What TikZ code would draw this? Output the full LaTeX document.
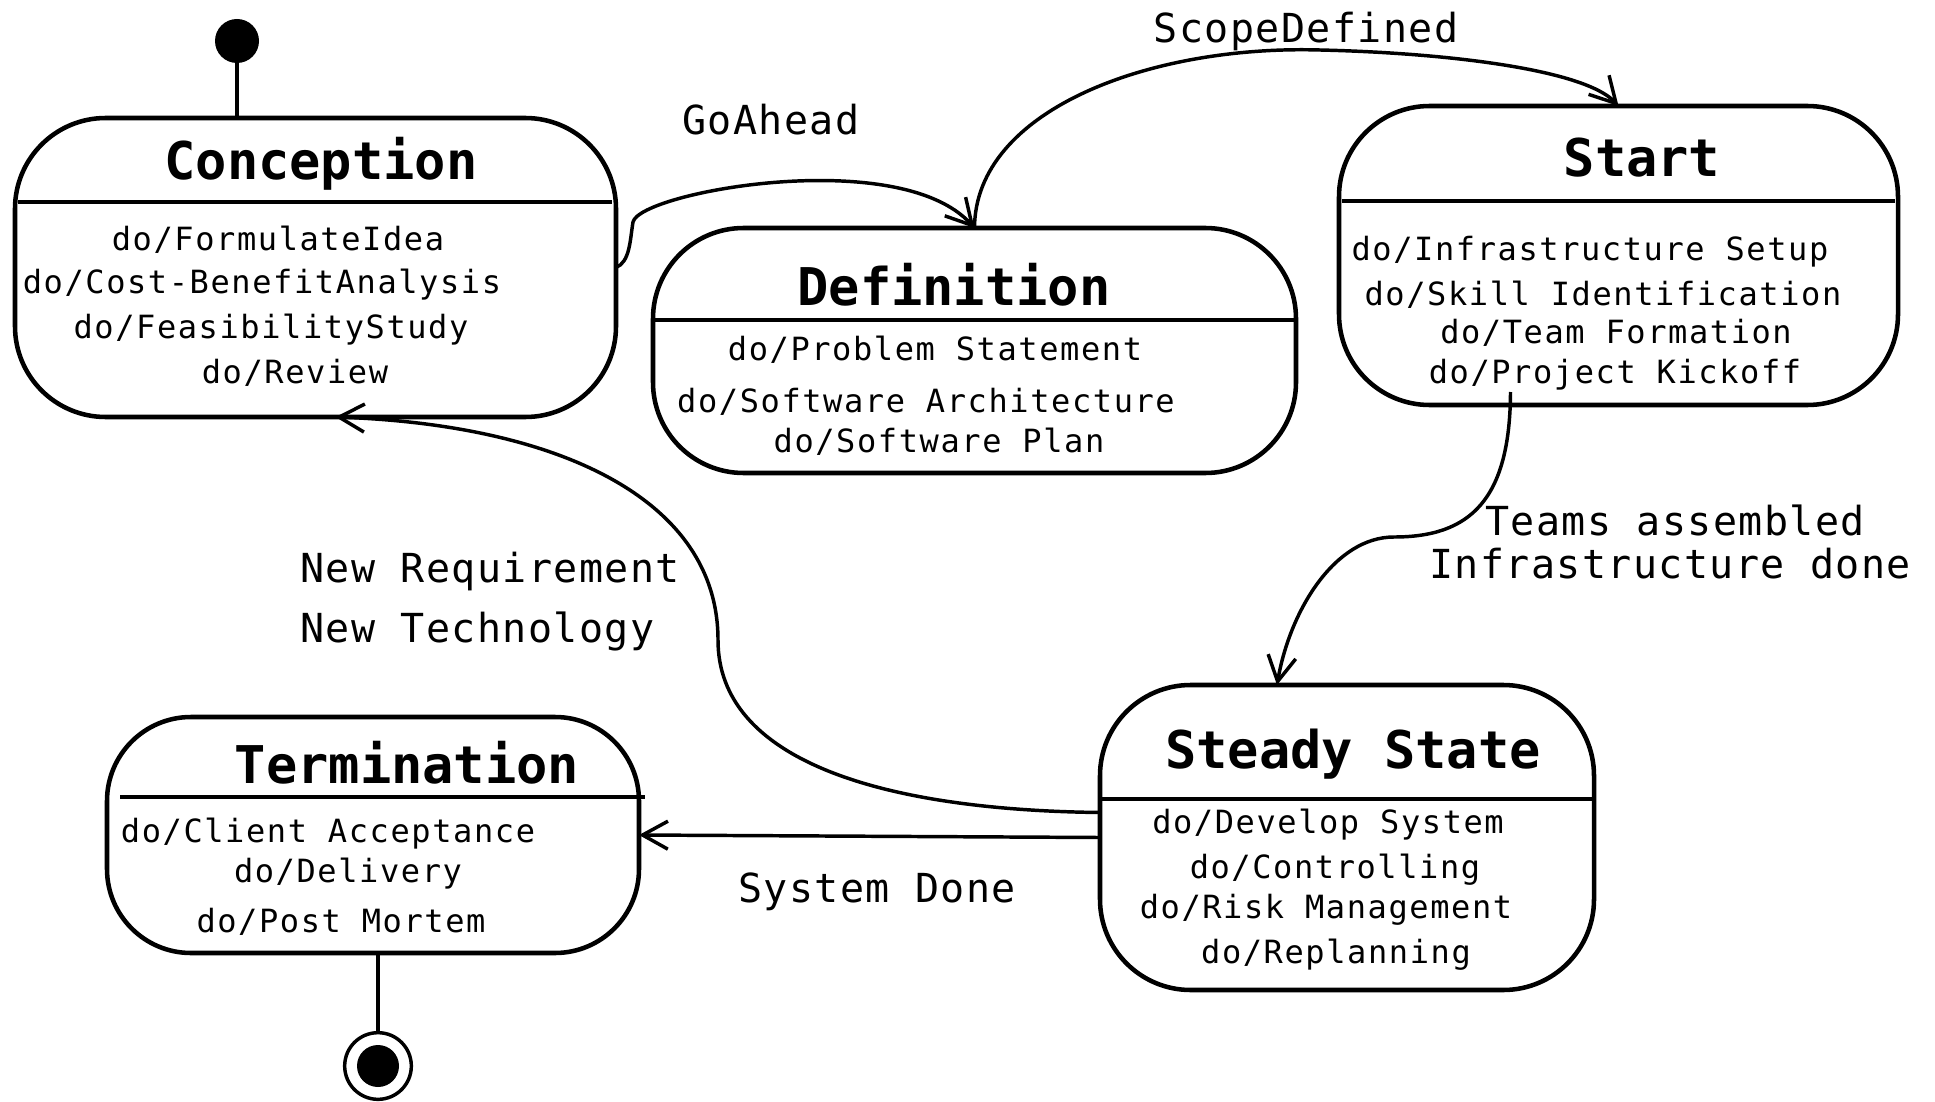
\documentclass[tikz,border=0pt]{standalone}
\usepackage{fontspec}
\usetikzlibrary{arrows.meta,calc}
\newfontfamily\bodyfont{DejaVu Sans Mono}[LetterSpace=5]
\newfontfamily\lblfont{DejaVu Sans Mono}[LetterSpace=3.5]
\newfontfamily\ttlfont{DejaVu Sans Mono}

\begin{document}
\begin{tikzpicture}[x=0.75pt,y=-0.75pt,
  state/.style={draw, line width=3.4pt, rounded corners=68pt, inner sep=0pt, outer sep=0pt},
  divider/.style={line width=3.4pt},
  ttl/.style={anchor=base, inner sep=0pt, font=\ttlfont\bfseries\fontsize{39pt}{44pt}\selectfont},
  act/.style={anchor=base, inner sep=0pt, font=\bodyfont\fontsize{24pt}{29pt}\selectfont},
  lbl/.style={anchor=base, inner sep=0pt, font=\lblfont\fontsize{30pt}{36pt}\selectfont},
  link/.style={line width=2.6pt},
  trans/.style={link, -{Straight Barb[length=19pt,width=21pt]}}]

\path[use as bounding box, fill=white] (0,0) rectangle (1935,1102);

% states
\node[state, minimum width=450.75pt, minimum height=224.25pt] (conc) at (315.5,267.5) {};
\node[state, minimum width=482.25pt, minimum height=183.75pt] (defn) at (974.5,350.5) {};
\node[state, minimum width=419.25pt, minimum height=224.25pt] (start) at (1618.5,255.5) {};
\node[state, minimum width=370.5pt, minimum height=228.75pt] (steady) at (1347,837.5) {};
\node[state, rounded corners=63pt, minimum width=399pt, minimum height=177pt] (term) at (373,835) {};

% compartment lines
\draw[divider] (18,202) -- (612,202);
\draw[divider] (655,320) -- (1294,320);
\draw[divider] (1342,201) -- (1895,201);
\draw[divider] (1102,799) -- (1592,799);
\draw[divider] (120,797) -- (645,797);

% state names
\node[ttl] (conc-t) at (321,180) {Conception};
\node[ttl] (defn-t) at (954,305) {Definition};
\node[ttl] (start-t) at (1642,177) {Start};
\node[ttl] (steady-t) at (1353,768) {Steady State};
\node[ttl] (term-t) at (407,783) {Termination};

% activities
\node[act] (c1) at (278,250) {do/FormulateIdea};
\node[act] (c2) at (262,293) {do/Cost-BenefitAnalysis};
\node[act] (c3) at (271,338) {do/FeasibilityStudy};
\node[act] (c4) at (295,383) {do/Review};

\node[act] (d1) at (935,360) {do/Problem Statement};
\node[act] (d2) at (926,412) {do/Software Architecture};
\node[act] (d3) at (939,452) {do/Software Plan};

\node[act] (s1) at (1590,260) {do/Infrastructure Setup};
\node[act] (s2) at (1603,305) {do/Skill Identification};
\node[act] (s3) at (1616,343) {do/Team Formation};
\node[act] (s4) at (1615,383) {do/Project Kickoff};

\node[act] (y1) at (1328,833) {do/Develop System};
\node[act] (y2) at (1335,878) {do/Controlling};
\node[act] (y3) at (1326,918) {do/Risk Management};
\node[act] (y4) at (1336,963) {do/Replanning};

\node[act] (e1) at (328,842) {do/Client Acceptance};
\node[act] (e2) at (348,882) {do/Delivery};
\node[act] (e3) at (341,932) {do/Post Mortem};

% pseudo states
\node[circle, fill, inner sep=0pt, minimum size=33pt] (init) at (237,41) {};
\node[circle, draw, line width=2.6pt, inner sep=0pt, minimum size=50pt] (fin) at (378,1066) {};
\node[circle, fill, inner sep=0pt, minimum size=31.5pt] (fin-dot) at (fin) {};

\draw[link] (init) -- (init |- conc.north);
\draw[link] (fin |- term.south) -- (fin);

% transitions
\draw[trans] (conc.east) .. controls (630,262) and (630,240) .. (633,222)
  .. controls (640,192) and (900,145) .. (defn.north);
\draw[trans] (defn.north) .. controls (975,110) and (1150,45) .. (1320,50)
  .. controls (1450,53) and (1585,70) .. (start.north);

\coordinate (kick) at ($(start.south)+(-108,-13)$);
\coordinate (ss-in) at ($(steady.north)+(-70,0)$);
\draw[trans] (kick) .. controls (1510,500) and (1470,537) .. (1394,537)
  .. controls (1335,537) and (1290,610) .. (ss-in);

\coordinate (ss-out) at ($(steady.west)+(0,-25)$);
\coordinate (conc-in) at ($(conc.south)+(20,0)$);
\draw[trans] (ss-out) .. controls (880,810) and (718,760) .. (718,640)
  .. controls (718,500) and (560,425) .. (conc-in);

\draw[trans] (steady.west) -- (term.east);

% transition labels
\node[lbl] (l-go) at (771,135) {GoAhead};
\node[lbl] (l-scope) at (1306,43) {ScopeDefined};
\node[lbl] (l-teams) at (1675,535) {Teams assembled};
\node[lbl] (l-infra) at (1670,578) {Infrastructure done};
\node[lbl, anchor=base west] (l-req) at (300,582) {New Requirement};
\node[lbl, anchor=base west] (l-tech) at (300,642) {New Technology};
\node[lbl] (l-done) at (877,902) {System Done};
\end{tikzpicture}
\end{document}
